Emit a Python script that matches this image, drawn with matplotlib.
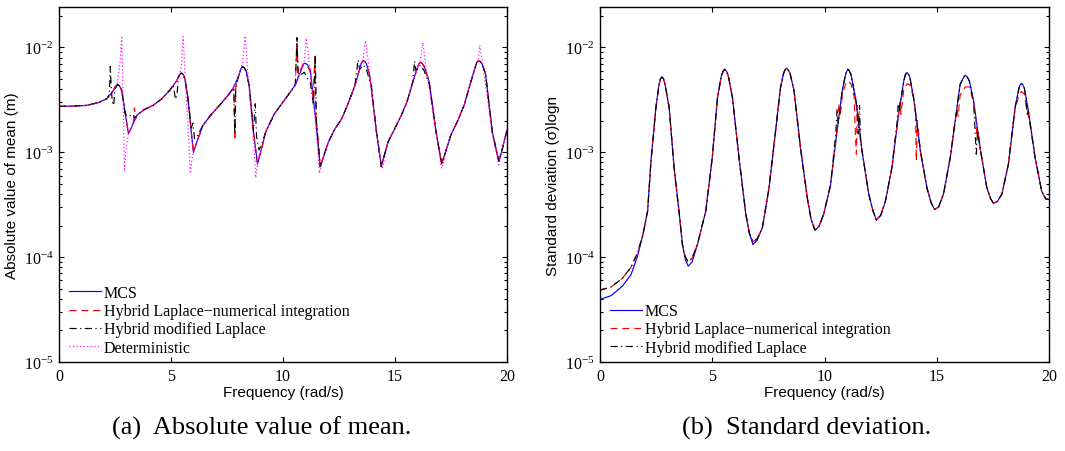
import matplotlib
matplotlib.use('Agg')
import matplotlib.pyplot as plt
from matplotlib.ticker import LogLocator, NullFormatter

plt.rcParams['font.family'] = ['Liberation Serif', 'DejaVu Serif']
plt.rcParams['mathtext.fontset'] = 'custom'
plt.rcParams['mathtext.rm'] = 'Liberation Serif'
plt.rcParams['mathtext.default'] = 'regular'

# ---- (a) absolute value of mean, MCS curve
mean_freq = [0, 0.6, 1.25, 1.8, 2.14, 2.4, 2.52, 2.61, 2.7, 2.8, 2.95, 3.10, 3.25, 3.47,
             3.8, 4.2, 4.6, 4.94, 5.25, 5.38, 5.46, 5.54, 5.62, 5.76, 5.9, 6.0, 6.15,
             6.42, 6.8, 7.16, 7.5, 7.75, 8.0, 8.11, 8.19, 8.27, 8.35, 8.49, 8.68, 8.86,
             9.0, 9.23, 9.6, 10.11, 10.55, 10.8, 10.88, 10.95, 11.02, 11.1, 11.22, 11.44,
             11.66, 11.8, 12.03, 12.3, 12.62, 12.9, 13.21, 13.4, 13.5, 13.58, 13.65,
             13.72, 13.87, 14.17, 14.39, 14.5, 14.69, 15.0, 15.28, 15.55, 15.79, 15.98,
             16.05, 16.13, 16.21, 16.3, 16.53, 16.83, 17.08, 17.25, 17.49, 17.8, 18.08,
             18.38, 18.55, 18.64, 18.72, 18.8, 18.88, 19.04, 19.34, 19.63, 19.8, 20.0]
mean_mcs = [2.74e-3, 2.76e-3, 2.8e-3, 3.0e-3, 3.25e-3, 3.8e-3, 4.25e-3, 4.43e-3, 4.3e-3,
            3.9e-3, 2.4e-3, 1.51e-3, 1.75e-3, 2.25e-3, 2.55e-3, 2.8e-3, 3.25e-3, 3.9e-3,
            4.8e-3, 5.5e-3, 5.7e-3, 5.55e-3, 5.0e-3, 3.25e-3, 1.6e-3, 1.0e-3, 1.25e-3,
            1.8e-3, 2.3e-3, 2.8e-3, 3.4e-3, 4.0e-3, 5.2e-3, 6.2e-3, 6.56e-3, 6.4e-3,
            6.0e-3, 4.3e-3, 1.57e-3, 7.76e-4, 1.0e-3, 1.57e-3, 2.3e-3, 3.25e-3, 4.4e-3,
            6.0e-3, 6.8e-3, 7.06e-3, 7.0e-3, 6.8e-3, 6.0e-3, 2.25e-3, 7.3e-4, 9e-4,
            1.26e-3, 1.65e-3, 2.09e-3, 2.9e-3, 4.33e-3, 6.0e-3, 7.1e-3, 7.48e-3, 7.35e-3,
            7.0e-3, 5.4e-3, 1.57e-3, 7.3e-4, 9e-4, 1.26e-3, 1.7e-3, 2.25e-3, 3.1e-3,
            4.66e-3, 6.2e-3, 6.9e-3, 7.2e-3, 7.05e-3, 6.6e-3, 4.67e-3, 1.57e-3, 7.76e-4,
            1.0e-3, 1.46e-3, 2.0e-3, 2.8e-3, 4.67e-3, 6.2e-3, 7.1e-3, 7.48e-3, 7.35e-3,
            7.0e-3, 5.6e-3, 1.57e-3, 8.2e-4, 1.1e-3, 1.63e-3]

# places where the other mean curves leave the MCS curve: (freq, value)
mean_ln_patches = [
    [(3.25, 1.75e-3), (3.33, 2.0e-3), (3.37, 2.65e-3), (3.41, 2.05e-3), (3.47, 2.25e-3)],
    [(7.8, 4.1e-3), (7.85, 1.3e-3), (7.89, 4.2e-3)],
    [(10.55, 4.4e-3), (10.62, 1.15e-2), (10.68, 5.5e-3), (10.8, 6.3e-3), (10.95, 6.9e-3),
     (11.1, 6.6e-3), (11.22, 5.8e-3), (11.35, 3.2e-3), (11.42, 8.0e-3), (11.47, 2.3e-3)],
]
mean_ml_patches = [
    [(2.14, 3.25e-3), (2.25, 3.6e-3), (2.29, 6.6e-3), (2.33, 4.2e-3), (2.38, 3.0e-3),
     (2.44, 2.8e-3), (2.5, 4.0e-3), (2.61, 4.4e-3)],
    [(2.95, 2.35e-3), (3.05, 2.2e-3), (3.2, 2.25e-3), (3.3, 2.3e-3), (3.4, 2.1e-3),
     (3.47, 2.25e-3)],
    [(5.1, 4.4e-3), (5.2, 3.2e-3), (5.27, 3.5e-3), (5.32, 5.0e-3)],
    [(5.9, 1.7e-3), (5.98, 1.9e-3), (6.05, 1.35e-3), (6.15, 1.4e-3)],
    [(7.8, 4.1e-3), (7.85, 1.5e-3), (7.89, 4.2e-3)],
    [(8.68, 1.6e-3), (8.76, 2.9e-3), (8.82, 1.4e-3), (8.93, 1.05e-3), (9.05, 1.2e-3)],
    [(10.55, 4.4e-3), (10.62, 1.24e-2), (10.68, 5.2e-3), (10.8, 5.5e-3), (10.95, 5.8e-3),
     (11.1, 5.0e-3), (11.22, 4.6e-3), (11.36, 2.8e-3), (11.44, 8.6e-3), (11.49, 2.0e-3)],
    [(13.21, 4.33e-3), (13.35, 7.6e-3), (13.42, 6.2e-3), (13.58, 6.8e-3), (13.72, 6.2e-3),
     (13.87, 4.8e-3), (13.95, 4.3e-3)],
    [(15.79, 4.66e-3), (15.87, 7.4e-3), (15.93, 6.0e-3), (16.13, 6.8e-3), (16.3, 6.0e-3),
     (16.53, 4.4e-3)],
]
mean_det_patches = [
    [(2.61, 4.6e-3), (2.72, 7e-3), (2.8, 1.24e-2), (2.86, 3.5e-3), (2.92, 6.6e-4),
     (3.0, 1.1e-3), (3.10, 1.51e-3)],
    [(5.46, 6.5e-3), (5.54, 1.27e-2), (5.66, 4e-3), (5.8, 1.2e-3), (5.86, 6.3e-4),
     (5.95, 9.0e-4)],
    [(8.19, 7.0e-3), (8.31, 1.29e-2), (8.45, 5e-3), (8.7, 1.2e-3), (8.78, 5.7e-4),
     (8.9, 9e-4)],
    [(10.95, 7.5e-3), (11.04, 1.22e-2), (11.18, 7e-3), (11.44, 2.0e-3), (11.63, 6.3e-4),
     (11.75, 8.5e-4)],
    [(13.58, 8.0e-3), (13.68, 1.16e-2), (13.8, 7.5e-3), (14.17, 1.5e-3), (14.43, 7.1e-4),
     (14.55, 9e-4)],
    [(16.13, 7.6e-3), (16.24, 1.11e-2), (16.35, 7.2e-3), (16.83, 1.5e-3), (17.08, 7.0e-4),
     (17.2, 8.5e-4)],
    [(18.72, 7.8e-3), (18.78, 1.05e-2), (18.9, 7.3e-3), (19.34, 1.5e-3), (19.63, 7.6e-4),
     (19.75, 9.5e-4)],
]

# ---- (b) standard deviation, MCS curve
std_freq = [0, 0.5, 1.0, 1.38, 1.67, 1.9, 2.12, 2.27, 2.49, 2.62, 2.69, 2.76, 2.83, 2.9,
            3.08, 3.3, 3.53, 3.67, 3.8, 3.93, 4.1, 4.34, 4.71, 5.0, 5.23, 5.4, 5.48, 5.56,
            5.64, 5.72, 5.9, 6.19, 6.49, 6.65, 6.81, 7.0, 7.23, 7.53, 7.82, 8.04, 8.18,
            8.24, 8.31, 8.38, 8.46, 8.64, 8.93, 9.23, 9.4, 9.57, 9.75, 9.97, 10.27, 10.56,
            10.79, 10.92, 10.97, 11.04, 11.11, 11.18, 11.38, 11.67, 11.97, 12.15, 12.31,
            12.5, 12.71, 13.0, 13.3, 13.53, 13.6, 13.67, 13.74, 13.8, 13.97, 14.27, 14.56,
            14.75, 14.9, 15.08, 15.3, 15.6, 15.9, 16.04, 16.2, 16.27, 16.35, 16.45, 16.64,
            16.93, 17.23, 17.4, 17.53, 17.7, 17.9, 18.19, 18.49, 18.65, 18.7, 18.76,
            18.83, 18.9, 19.08, 19.38, 19.67, 19.85, 20.0]
std_mcs = [3.95e-5, 4.3e-5, 5.3e-5, 6.8e-5, 1.02e-4, 1.6e-4, 2.75e-4, 8.3e-4, 2.67e-3,
           4.3e-3, 5.0e-3, 5.24e-3, 5.0e-3, 4.4e-3, 2.67e-3, 7.1e-4, 2.6e-4, 1.32e-4,
           9.5e-5, 8.2e-5, 9e-5, 1.32e-4, 2.75e-4, 8.9e-4, 3.3e-3, 5.3e-3, 5.9e-3,
           6.2e-3, 5.9e-3, 5.3e-3, 3.3e-3, 8.9e-4, 2.6e-4, 1.7e-4, 1.32e-4, 1.45e-4,
           1.9e-4, 4.6e-4, 1.6e-3, 4.15e-3, 5.7e-3, 6.1e-3, 6.35e-3, 6.1e-3, 5.7e-3,
           3.9e-3, 1.1e-3, 3.7e-4, 2.3e-4, 1.81e-4, 1.95e-4, 2.6e-4, 4.9e-4, 1.6e-3,
           3.9e-3, 5.3e-3, 5.8e-3, 6.2e-3, 5.95e-3, 5.5e-3, 3.3e-3, 1.03e-3, 4e-4,
           2.8e-4, 2.26e-4, 2.5e-4, 3.4e-4, 7.1e-4, 2.3e-3, 4.8e-3, 5.5e-3, 5.77e-3,
           5.55e-3, 5.2e-3, 3.3e-3, 1.03e-3, 4.6e-4, 3.3e-4, 2.85e-4, 3.0e-4, 4e-4,
           8.9e-4, 2.67e-3, 4.45e-3, 5.2e-3, 5.44e-3, 5.25e-3, 4.8e-3, 3.1e-3, 1.1e-3,
           4.6e-4, 3.6e-4, 3.26e-4, 3.4e-4, 4e-4, 7.7e-4, 2.67e-3, 4.0e-3, 4.35e-3,
           4.53e-3, 4.4e-3, 4.1e-3, 2.5e-3, 8.9e-4, 4.27e-4, 3.6e-4, 3.55e-4]

std_start = [(0, 4.85e-5), (0.5, 5.2e-5), (1.0, 6.3e-5), (1.38, 8e-5), (1.67, 1.1e-4)]
std_trough1 = [(3.8, 1.0e-4), (3.93, 9.0e-5), (4.1, 9.8e-5)]
std_trough2 = [(6.81, 1.4e-4), (7.0, 1.5e-4)]
std_ln_patches = [
    std_start, std_trough1, std_trough2,
    [(10.56, 1.7e-3), (10.65, 2.9e-3), (10.7, 2.2e-3), (10.79, 3.5e-3), (10.92, 4.4e-3),
     (11.04, 4.8e-3), (11.18, 4.5e-3), (11.32, 3.4e-3), (11.38, 1.4e-3), (11.42, 9.6e-4),
     (11.46, 2.8e-3)],
    [(13.3, 2.4e-3), (13.36, 3.0e-3), (13.4, 2.3e-3), (13.53, 3.9e-3), (13.67, 4.5e-3),
     (13.8, 4.4e-3), (13.97, 3.3e-3), (14.05, 2.5e-3), (14.09, 8.3e-4), (14.13, 2.0e-3)],
    [(15.9, 2.6e-3), (15.95, 2.2e-3), (16.04, 3.5e-3), (16.27, 4.2e-3), (16.45, 4.2e-3),
     (16.55, 3.6e-3), (16.64, 2.9e-3), (16.72, 2.3e-3), (16.78, 1.5e-3), (16.83, 1.6e-3)],
    [(18.49, 2.67e-3), (18.55, 2.9e-3), (18.65, 3.4e-3), (18.76, 3.8e-3), (18.9, 3.6e-3),
     (19.0, 2.6e-3), (19.08, 2.3e-3)],
]
std_ml_patches = [
    std_start, std_trough1, std_trough2,
    [(10.5, 1.5e-3), (10.56, 2.6e-3), (10.62, 1.9e-3), (10.79, 3.9e-3)],
    [(11.45, 2.6e-3), (11.5, 1.5e-3), (11.56, 2.8e-3), (11.6, 1.3e-3)],
    [(13.24, 2.0e-3), (13.28, 2.9e-3), (13.33, 2.5e-3)],
    [(16.64, 3.0e-3), (16.7, 1.7e-3), (16.76, 9.6e-4), (16.82, 1.6e-3)],
    [(18.98, 3.2e-3), (19.03, 2.2e-3), (19.08, 2.5e-3)],
]

labels = ['MCS', 'Hybrid Laplace\u2212numerical integration', 'Hybrid modified Laplace',
          'Deterministic']


def patched(freq, vals, patches):
    pts = list(zip(freq, vals))
    for p in patches:
        lo, hi = p[0][0], p[-1][0]
        pts = [q for q in pts if q[0] < lo or q[0] > hi]
        pts += p
    pts.sort()
    return [q[0] for q in pts], [q[1] for q in pts]


def style_axes(ax, ylabel):
    ax.set_yscale('log')
    ax.set_xlim(0, 20)
    ax.set_ylim(1e-5, 0.0243)
    ax.set_xticks([0, 5, 10, 15, 20])
    ax.yaxis.set_major_locator(LogLocator(base=10, numticks=10))
    ax.yaxis.set_minor_locator(LogLocator(base=10, subs=range(2, 10), numticks=10))
    ax.yaxis.set_minor_formatter(NullFormatter())
    ax.tick_params(which='both', direction='in', top=True, right=True, labelsize=11.5,
                   width=0.8, pad=4)
    ax.tick_params(which='major', length=3.5)
    ax.tick_params(which='minor', length=2)
    for s in ax.spines.values():
        s.set_linewidth(1.0)
    ax.set_xlabel('Frequency (rad/s)', fontfamily='Liberation Sans', fontsize=11, labelpad=1)
    ax.set_ylabel(ylabel, fontfamily='Liberation Sans', fontsize=11, labelpad=3)


def add_legend(ax):
    ax.legend(loc='lower left', bbox_to_anchor=(0.022, 0.018), frameon=False,
              fontsize=11.5, handlelength=2.0, handletextpad=0.2, labelspacing=0.14,
              borderpad=0, borderaxespad=0)


fig = plt.figure(figsize=(10.65, 4.52), dpi=100)
ax1 = fig.add_axes([0.0554, 0.1969, 0.4207, 0.7854])
ax2 = fig.add_axes([0.5634, 0.1969, 0.4216, 0.7854])

lw = 0.85
f_ln, v_ln = patched(mean_freq, mean_mcs, mean_ln_patches)
f_ml, v_ml = patched(mean_freq, mean_mcs, mean_ml_patches)
f_det, v_det = patched(mean_freq, mean_mcs, mean_det_patches)
ax1.plot(mean_freq, mean_mcs, color='blue', lw=lw, label=labels[0])
ax1.plot(f_ln, v_ln, color='red', lw=lw, dashes=(6, 4), label=labels[1])
ax1.plot(f_ml, v_ml, color='black', lw=lw, dashes=(6, 3, 1, 3), label=labels[2])
ax1.plot(f_det, v_det, color='magenta', lw=lw, dashes=(1, 2), label=labels[3])
style_axes(ax1, 'Absolute value of mean (m)')
add_legend(ax1)

fs_ln, vs_ln = patched(std_freq, std_mcs, std_ln_patches)
fs_ml, vs_ml = patched(std_freq, std_mcs, std_ml_patches)
ax2.plot(std_freq, std_mcs, color='blue', lw=lw, label=labels[0])
ax2.plot(fs_ln, vs_ln, color='red', lw=lw, dashes=(6, 4), label=labels[1])
ax2.plot(fs_ml, vs_ml, color='black', lw=lw, dashes=(6, 3, 1, 3), label=labels[2])
style_axes(ax2, 'Standard deviation (\u03c3)logn')
add_legend(ax2)

fig.text(262 / 1065, 1 - 428 / 452, '(a)  Absolute value of mean.', ha='center',
         va='center', fontsize=19)
fig.text(807 / 1065, 1 - 428 / 452, '(b)  Standard deviation.', ha='center',
         va='center', fontsize=19)

fig.savefig('out.png', dpi=100)
